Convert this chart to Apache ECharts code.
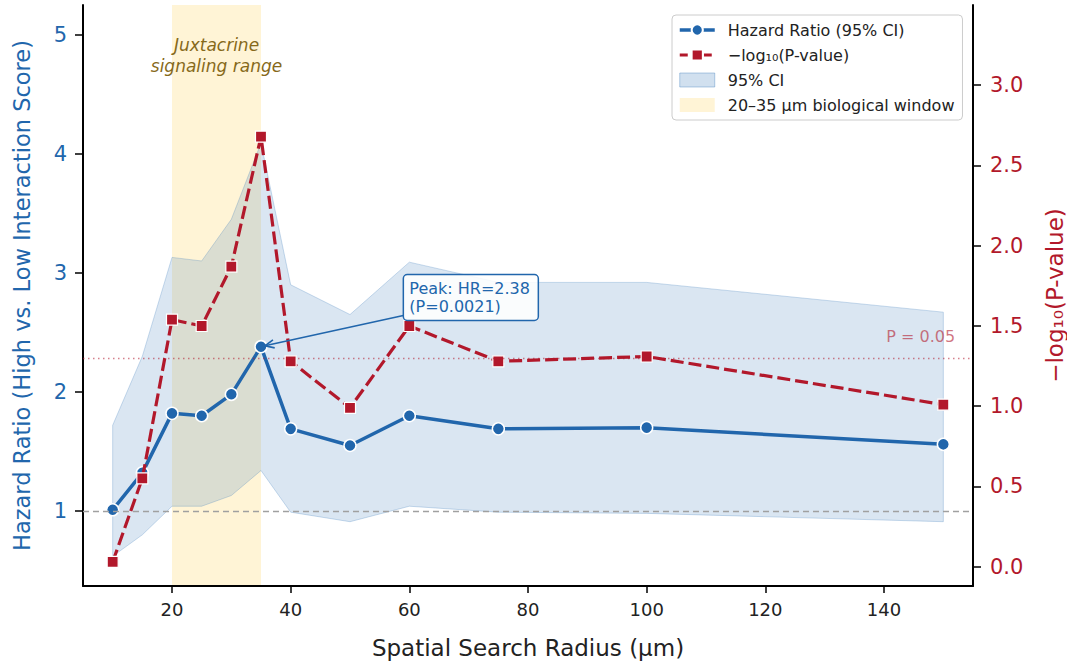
<!DOCTYPE html>
<html>
<head>
<meta charset="utf-8">
<script src="https://cdn.jsdelivr.net/npm/echarts@6/dist/echarts.min.js"></script>
<style>
  html, body { margin: 0; padding: 0; background: #ffffff; }
  #chart { width: 1067px; height: 665px; }
</style>
</head>
<body>
<div id="chart"></div>
<script>
// Search radius (µm) and survival association at each radius
const radius = [10, 15, 20, 25, 30, 35, 40, 50, 60, 75, 100, 150];
const hazardRatio = [1.01, 1.32, 1.82, 1.80, 1.98, 2.38, 1.69, 1.55, 1.80, 1.69, 1.70, 1.56];
const ciLower = [0.62, 0.80, 1.04, 1.04, 1.13, 1.34, 0.99, 0.91, 1.04, 0.99, 0.98, 0.91];
const ciUpper = [1.72, 2.30, 3.13, 3.10, 3.45, 4.09, 2.90, 2.65, 3.09, 2.92, 2.92, 2.67];
const negLog10P = [0.03, 0.55, 1.54, 1.50, 1.87, 2.68, 1.28, 0.99, 1.50, 1.28, 1.31, 1.01];

// Biological window and reference levels
const windowRange = [20, 35];
const hrReference = 1;
const pThreshold = 0.05;

// Tick positions
const radiusTicks = [20, 40, 60, 80, 100, 120, 140];
const hrTicks = [1, 2, 3, 4, 5];
const pTicks = [0, 0.5, 1.0, 1.5, 2.0, 2.5, 3.0];

const FONT = '"DejaVu Sans", "Noto Sans", sans-serif';
const BLUE = '#2166ac';
const RED = '#b2182b';
const BAND_FILL = 'rgba(70,130,190,0.2)';
const BAND_EDGE = 'rgba(70,130,190,0.28)';
const WINDOW_FILL = 'rgba(255,220,120,0.3)';

const NAME_HR = 'Hazard Ratio (95% CI)';
const NAME_P = '\u2212log\u2081\u2080(P-value)';
const NAME_CI = '95% CI';
const NAME_WIN = '20\u201335 \u00b5m biological window';

const chart = echarts.init(document.getElementById('chart'), null, { renderer: 'svg' });

const option = {
  animation: false,
  backgroundColor: '#ffffff',
  textStyle: { fontFamily: FONT },
  grid: { left: 83, right: 94, top: 5, bottom: 79, containLabel: false, outerBoundsMode: 'none' },
  legend: {
    left: 672, top: 15, orient: 'vertical',
    itemWidth: 35, itemHeight: 14, itemGap: 7,
    padding: [6, 8, 6, 6],
    backgroundColor: 'rgba(255,255,255,0.9)',
    borderColor: '#cccccc', borderWidth: 1, borderRadius: 4,
    selectedMode: false,
    textStyle: { fontFamily: FONT, fontSize: 16, color: '#222222', lineHeight: 18, padding: [0, 0, 0, 8] },
    data: [
      { name: NAME_HR, lineStyle: { width: 3.5 } },
      { name: NAME_P, lineStyle: { width: 3, type: [8, 4] } },
      { name: NAME_CI, icon: 'rect', itemStyle: { color: 'rgba(70,130,190,0.25)', borderColor: 'rgba(70,130,190,0.4)', borderWidth: 1 } },
      { name: NAME_WIN, icon: 'rect', itemStyle: { color: WINDOW_FILL } }
    ]
  },
  xAxis: {
    type: 'value', min: 5, max: 155,
    name: 'Spatial Search Radius (\u00b5m)', nameLocation: 'middle', nameGap: 50,
    nameTextStyle: { fontFamily: FONT, fontSize: 23, color: '#222222' },
    axisLine: { show: true, onZero: false, lineStyle: { color: '#000000', width: 2 } },
    axisTick: { show: true, customValues: radiusTicks, length: 7, lineStyle: { color: '#000000', width: 1.5 } },
    axisLabel: { customValues: radiusTicks, fontSize: 18, color: '#222222', margin: 14 },
    splitLine: { show: false }
  },
  yAxis: [
    {
      type: 'value', min: 0.37, max: 5.25, position: 'left',
      name: 'Hazard Ratio (High vs. Low Interaction Score)', nameLocation: 'middle', nameGap: 50, nameRotate: 90,
      nameTextStyle: { fontFamily: FONT, fontSize: 22.5, color: BLUE },
      axisLine: { show: true, onZero: false, lineStyle: { color: '#000000', width: 2 } },
      axisTick: { show: true, customValues: hrTicks, length: 8, lineStyle: { color: '#000000', width: 1.5 } },
      axisLabel: { customValues: hrTicks, fontSize: 21, color: BLUE, margin: 16 },
      splitLine: { show: false }
    },
    {
      type: 'value', min: -0.12, max: 3.5, position: 'right',
      name: NAME_P, nameLocation: 'middle', nameGap: 70, nameRotate: 90,
      nameTextStyle: { fontFamily: FONT, fontSize: 23, color: RED },
      axisLine: { show: true, onZero: false, lineStyle: { color: '#000000', width: 2 } },
      axisTick: { show: true, customValues: pTicks, length: 8, lineStyle: { color: '#000000', width: 1.5 } },
      axisLabel: { customValues: pTicks, fontSize: 21, color: RED, margin: 17, formatter: v => v.toFixed(1) },
      splitLine: { show: false }
    }
  ],
  series: [
    {
      // shaded biological window with its caption
      name: NAME_WIN, type: 'custom', z: 0, silent: true,
      itemStyle: { color: WINDOW_FILL },
      data: [[windowRange[0], hrReference]],
      encode: { x: 0, y: 1 },
      renderItem(params, api) {
        const cs = params.coordSys;
        const p0 = api.coord([windowRange[0], hrReference]);
        const p1 = api.coord([windowRange[1], hrReference]);
        return {
          type: 'group',
          children: [
            { type: 'rect', shape: { x: p0[0], y: cs.y, width: p1[0] - p0[0], height: cs.height }, style: { fill: WINDOW_FILL } },
            { type: 'text', z2: 5, style: { text: 'Juxtacrine\nsignaling range', x: (p0[0] + p1[0]) / 2, y: cs.y + 50, align: 'center', verticalAlign: 'middle', font: 'italic 17px ' + FONT, fill: '#86691a', lineHeight: 21 } }
          ]
        };
      }
    },
    {
      // 95% confidence band around the hazard ratio
      name: NAME_CI, type: 'custom', z: 1, silent: true,
      itemStyle: { color: BAND_FILL },
      data: radius.map((x, i) => [x, ciLower[i], ciUpper[i]]),
      encode: { x: 0, y: [1, 2] },
      renderItem(params, api) {
        if (params.dataIndex !== 0) return { type: 'group', children: [] };
        const top = radius.map((x, i) => api.coord([x, ciUpper[i]]));
        const bottom = radius.map((x, i) => api.coord([x, ciLower[i]])).reverse();
        return {
          type: 'polygon',
          shape: { points: top.concat(bottom) },
          style: { fill: BAND_FILL, stroke: BAND_EDGE, lineWidth: 1 }
        };
      }
    },
    {
      name: NAME_HR, type: 'line', yAxisIndex: 0, z: 3,
      data: radius.map((x, i) => [x, hazardRatio[i]]),
      symbol: 'circle', symbolSize: 12,
      lineStyle: { color: BLUE, width: 3.5 },
      itemStyle: { color: BLUE, borderColor: '#ffffff', borderWidth: 1.5 },
      emphasis: { disabled: true },
      markLine: {
        silent: true, symbol: 'none', label: { show: false },
        lineStyle: { color: '#a0a0a0', type: [6, 4], width: 1.3 },
        data: [{ yAxis: hrReference }]
      }
    },
    {
      name: NAME_P, type: 'line', yAxisIndex: 1, z: 4,
      data: radius.map((x, i) => [x, negLog10P[i]]),
      symbol: 'rect', symbolSize: 11,
      lineStyle: { color: RED, width: 3.2, type: [13, 5] },
      itemStyle: { color: RED, borderColor: '#ffffff', borderWidth: 1.2 },
      emphasis: { disabled: true },
      markLine: {
        silent: true, symbol: 'none', label: { show: false },
        lineStyle: { color: 'rgba(178,24,43,0.55)', type: [1.5, 3.5], width: 1.3 },
        data: [{ yAxis: -Math.log10(pThreshold) }]
      }
    }
  ]
};

chart.setOption(option);

// Peak callout and threshold caption, placed through the axes' own scales
const peakI = hazardRatio.indexOf(Math.max(...hazardRatio));
const peakP = Math.pow(10, -negLog10P[peakI]);
const tip = chart.convertToPixel({ gridIndex: 0 }, [radius[peakI], hazardRatio[peakI]]);
const anchor = chart.convertToPixel({ gridIndex: 0 }, [60, 2.6]);
const start = [anchor[0] - 6, anchor[1] - 5];
const dx = start[0] - tip[0], dy = start[1] - tip[1];
const len = Math.hypot(dx, dy);
const ux = dx / len, uy = dy / len;
const end = [tip[0] + ux * 4, tip[1] + uy * 4];
const headLen = 10, ang = 0.42;
const rot = (a) => [ux * Math.cos(a) - uy * Math.sin(a), ux * Math.sin(a) + uy * Math.cos(a)];
const h1 = rot(ang), h2 = rot(-ang);

const thrY = chart.convertToPixel({ xAxisIndex: 0, yAxisIndex: 1 }, [152, -Math.log10(pThreshold)]);

chart.setOption({
  graphic: [
    { type: 'line', z: 20, shape: { x1: start[0], y1: start[1], x2: end[0], y2: end[1] }, style: { stroke: BLUE, lineWidth: 1.6 } },
    { type: 'polyline', z: 20, shape: { points: [[end[0] + h1[0] * headLen, end[1] + h1[1] * headLen], end, [end[0] + h2[0] * headLen, end[1] + h2[1] * headLen]] }, style: { stroke: BLUE, lineWidth: 1.6, fill: null } },
    { type: 'rect', z: 20, shape: { x: anchor[0] - 6, y: anchor[1] - 46, width: 135, height: 46, r: 4 }, style: { fill: 'rgba(255,255,255,0.85)', stroke: BLUE, lineWidth: 1.5 } },
    { type: 'text', z: 21, style: { text: 'Peak: HR=' + hazardRatio[peakI].toFixed(2) + '\n(P=' + peakP.toFixed(4) + ')', x: anchor[0], y: anchor[1] - 23.5, align: 'left', verticalAlign: 'middle', font: '16px ' + FONT, fill: BLUE, lineHeight: 18 } },
    { type: 'text', z: 21, style: { text: 'P = ' + pThreshold, x: thrY[0], y: thrY[1] - 13, align: 'right', verticalAlign: 'bottom', font: '16px ' + FONT, fill: 'rgba(178,24,43,0.6)' } }
  ]
});
</script>
</body>
</html>
